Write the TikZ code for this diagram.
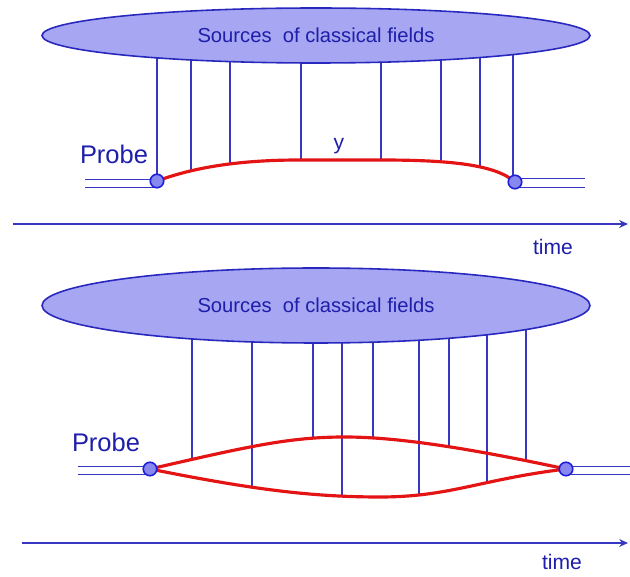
\documentclass[tikz,border=0pt]{standalone}
\usepackage{fontspec}
\setmainfont{Liberation Sans}
\usetikzlibrary{positioning, arrows.meta, shapes.geometric}
\definecolor{srcfill}{RGB}{166,166,242}
\definecolor{srcedge}{RGB}{40,40,190}
\definecolor{inkblue}{RGB}{30,30,170}
\definecolor{fieldblue}{RGB}{55,55,195}
\definecolor{pathred}{RGB}{228,20,20}
\definecolor{dotfill}{RGB}{135,135,240}
\definecolor{dotedge}{RGB}{30,30,215}

% classical paths of the probe (used for drawing and for clipping the field lines)
\newcommand{\pathone}{(a1) .. controls (3.9,8.2) and (4.8,8.34) .. (6.0,8.34) -- (7.6,8.34) .. controls (9.0,8.34) and (9.9,8.25) .. (b1)}
\newcommand{\pathup}{(a2) .. controls (5.0,2.62) and (5.8,2.80) .. (6.9,2.80) .. controls (8.0,2.80) and (9.5,2.55) .. (b2)}
\newcommand{\pathlow}{(a2) .. controls (5.0,1.76) and (6.2,1.60) .. (7.6,1.60) .. controls (9.0,1.60) and (9.6,1.95) .. (b2)}

\tikzset{
  source/.style={ellipse, draw=srcedge, fill=srcfill, line width=0.9pt, inner sep=0pt,
    font=\fontsize{11.5}{13}\selectfont, text=inkblue},
  field/.style={fieldblue, line width=0.6pt},
  worldline/.style={pathred, line width=1.8pt},
  probedot/.style={circle, draw=dotedge, fill=dotfill, line width=0.9pt,
    minimum size=0.27cm, inner sep=0pt},
  probeline/.style={draw=fieldblue, double=white, double distance=4.2pt, line width=0.6pt},
  timeaxis/.style={fieldblue, line width=0.7pt, -{Stealth[length=5pt, width=4.5pt]}},
  lbl/.style={text=inkblue, inner sep=0pt}
}

\begin{document}
\begin{tikzpicture}
  \useasboundingbox (0,0) rectangle (12.6,11.54);

  % ===== upper panel: a single classical path =====
  \coordinate (c1) at (6.32,10.83);
  \coordinate (a1) at (3.14,7.92);
  \coordinate (b1) at (10.30,7.90);
  % field lines, ending on the path
  \begin{scope}
    \clip (2.8,11.5) -- (2.8,7.92) -- \pathone -- (10.6,7.90) -- (10.6,11.5) -- cycle;
    \foreach \x in {3.14,3.82,4.60,6.02,7.62,8.82,9.60,10.26}
      \draw[field] (c1 -| \x,0) -- (\x,7.0);
  \end{scope}
  \node[source, minimum width=10.96cm, minimum height=1.1cm] (src1) at (c1)
    {Sources\ \ of classical fields};
  % incoming / outgoing probe
  \draw[probeline] (a1) ++(0,-0.045) -- ++(-1.44,0);
  \draw[probeline] (b1) ++(0,-0.02) -- ++(1.40,0);
  \draw[worldline] \pathone;
  \node[probedot] (pL1) at (a1) {};
  \node[probedot] (pR1) at (b1) {};
  \node[lbl, font=\fontsize{14.5}{16}\selectfont] (probe1) at (2.28,8.46) {Probe};
  \node[lbl, font=\fontsize{12}{14}\selectfont] (y1) at (6.78,8.62) {y};
  % time axis
  \coordinate (t1s) at (0.26,7.06);
  \coordinate (t1e) at (12.56,7.06);
  \draw[timeaxis] (t1s) -- (t1e);
  \node[lbl, font=\fontsize{12}{14}\selectfont] (time1) at (11.06,6.60) {time};

  % ===== lower panel: two paths (amplitude and conjugate) =====
  \coordinate (c2) at (6.32,5.43);
  \coordinate (a2) at (3.00,2.16);
  \coordinate (b2) at (11.32,2.16);
  % field lines ending on the upper path
  \begin{scope}
    \clip (2.7,6.0) -- (2.7,2.16) -- \pathup -- (11.6,2.16) -- (11.6,6.0) -- cycle;
    \foreach \x in {3.84,6.26,7.46,8.98,10.52}
      \draw[field] (c2 -| \x,0) -- (\x,1.0);
  \end{scope}
  % field lines ending on the lower path
  \begin{scope}
    \clip (2.7,6.0) -- (2.7,2.16) -- \pathlow -- (11.6,2.16) -- (11.6,6.0) -- cycle;
    \foreach \x in {5.04,6.84,8.38,9.74}
      \draw[field] (c2 -| \x,0) -- (\x,1.0);
  \end{scope}
  \node[source, minimum width=10.96cm, minimum height=1.5cm] (src2) at (c2)
    {Sources\ \ of classical fields};
  \draw[probeline] (a2) ++(0,-0.03) -- ++(-1.44,0);
  \draw[probeline] (b2) ++(0,-0.03) -- ++(1.30,0);
  \draw[worldline] \pathup;
  \draw[worldline] \pathlow;
  \node[probedot] (pL2) at (a2) {};
  \node[probedot] (pR2) at (b2) {};
  \node[lbl, font=\fontsize{14.5}{16}\selectfont] (probe2) at (2.12,2.70) {Probe};
  % time axis
  \coordinate (t2s) at (0.44,0.68);
  \coordinate (t2e) at (12.56,0.68);
  \draw[timeaxis] (t2s) -- (t2e);
  \node[lbl, font=\fontsize{12}{14}\selectfont] (time2) at (11.24,0.30) {time};
\end{tikzpicture}
\end{document}
